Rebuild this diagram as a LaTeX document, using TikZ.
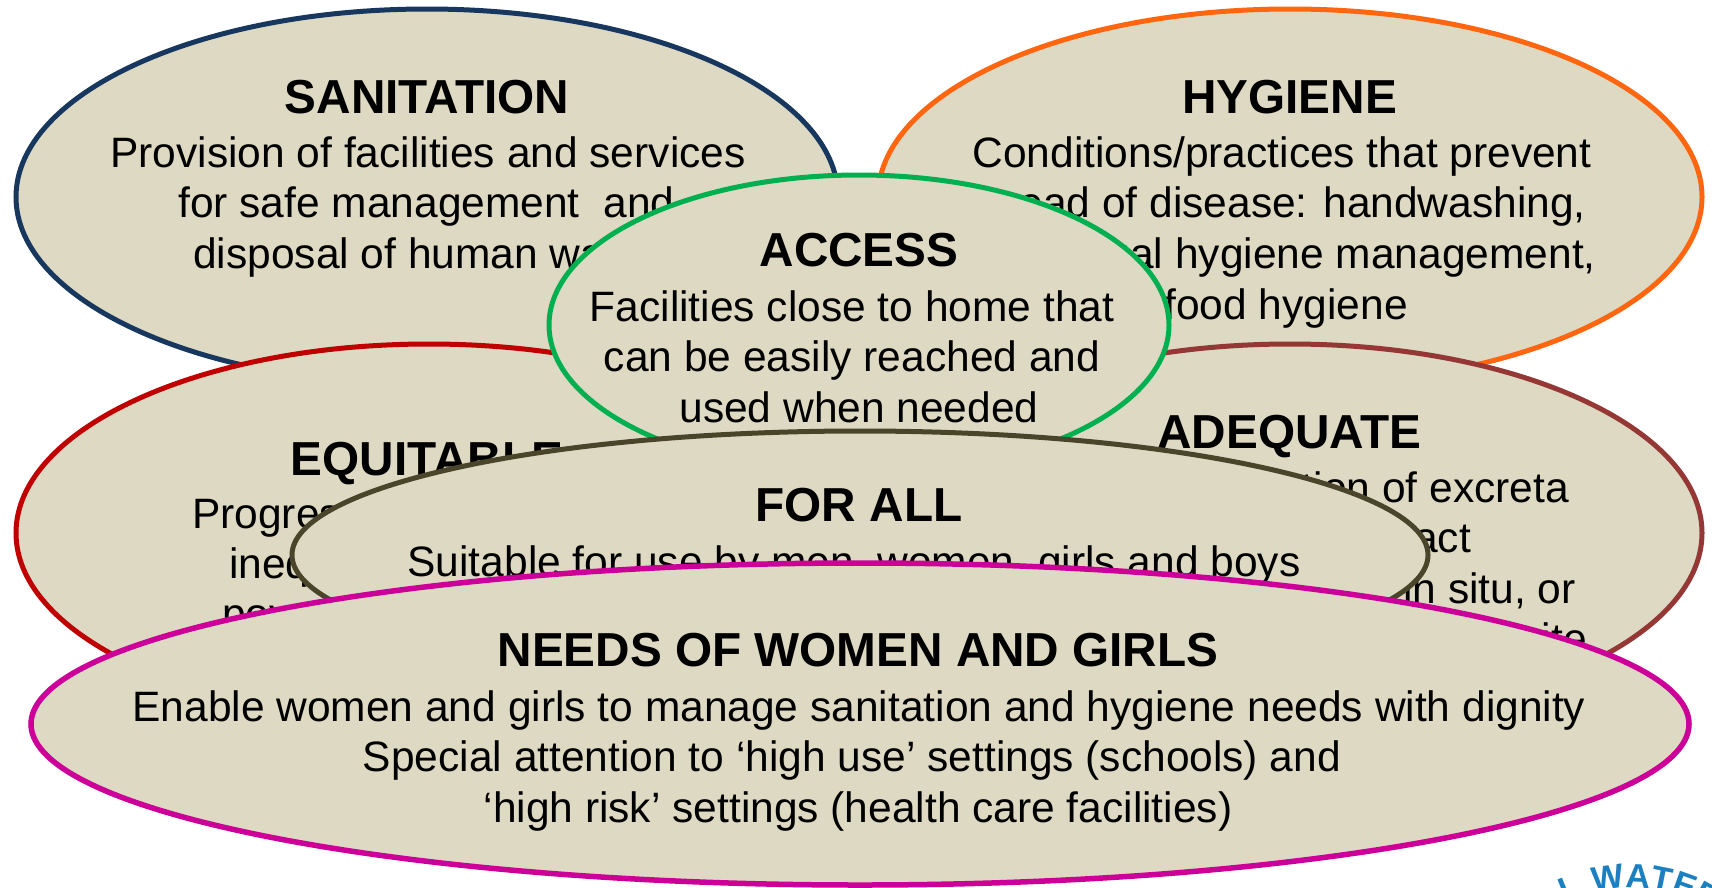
\documentclass[tikz,border=0pt]{standalone}
\usepackage{fontspec}
\usetikzlibrary{decorations.text}
\setmainfont{Liberation Sans}
\definecolor{fillc}{HTML}{DDD9C3}
\definecolor{sanc}{HTML}{17375E}
\definecolor{hygc}{HTML}{FF660F}
\definecolor{equc}{HTML}{C00000}
\definecolor{adeq}{HTML}{953735}
\definecolor{accc}{HTML}{00B050}
\definecolor{forc}{HTML}{4A452A}
\definecolor{needc}{HTML}{CC0099}
\definecolor{logoc}{HTML}{1B7FC0}
\tikzset{
  bubble/.style={draw, fill=fillc, line width=5pt},
  head/.style={inner sep=0pt, anchor=base, font=\fontsize{47.7}{50}\selectfont\bfseries},
  body/.style={inner sep=0pt, anchor=base, font=\fontsize{42.5}{50}\selectfont},
  bodyw/.style={body, anchor=base west},
  bodye/.style={body, anchor=base east},
}
\begin{document}
\begin{tikzpicture}[x=1pt,y=-1pt]
\useasboundingbox (0,0) rectangle (1712,887);
\clip (0,0) rectangle (1712,887);
% sanitation
\draw[bubble,draw=sanc] (427,197) ellipse [x radius=411,y radius=188];
\node[head] (sanh) at (427,113) {SANITATION};
\node[body] (san1) at (428,167) {Provision of facilities and services};
\node[bodyw] (san2) at (178,217) {for safe management\ \ and};
\node[bodyw] (san3) at (193,268) {disposal of human waste};
% hygiene
\draw[bubble,draw=hygc] (1290,197) ellipse [x radius=412,y radius=188];
\node[head] (hygh) at (1289.5,113) {HYGIENE};
\node[body] (hyg1) at (1282,167) {Conditions/practices that prevent};
\node[bodye] (hyg2) at (1586,217) {the spread of disease: handwashing,};
\node[bodye] (hyg3) at (1596,268) {menstrual hygiene management,};
\node[bodye] (hyg4) at (1408,319) {food hygiene};
% equitable
\draw[bubble,draw=equc] (429,533) ellipse [x radius=413,y radius=189];
\node[head] (equh) at (427,475) {EQUITABLE};
\node[bodyw] (equ1) at (192,528) {Progressive};
\node[bodyw] (equ2) at (229,578) {inequalities};
\node[bodyw] (equ3) at (222,628) {poverty};
% adequate
\draw[bubble,draw=adeq] (1290,533) ellipse [x radius=412,y radius=189];
\node[head] (adeh) at (1289.5,448) {ADEQUATE};
\node[bodye] (ade1) at (1569,502) {Separation of excreta};
\node[bodye] (ade2) at (1471,552) {contact};
\node[bodye] (ade3) at (1576,603) {in situ, or};
\node[bodye] (ade4) at (1587,653) {off-site};
% access
\draw[bubble,draw=accc] (859,325) ellipse [x radius=310,y radius=150];
\node[head] (acch) at (859,266) {ACCESS};
\node[body] (acc1) at (852,321) {Facilities close to home that};
\node[body] (acc2) at (852,371) {can be easily reached and};
\node[body] (acc3) at (859,422) {used when needed};
% for all
\draw[bubble,draw=forc] (860,555) ellipse [x radius=568,y radius=124];
\node[head] (forh) at (859,521) {FOR ALL};
\node[body] (for1) at (854,576) {Suitable for use by men, women, girls and boys};
% logo fragment
\path[decorate,decoration={text along path,text align=left,
  text={|\fontsize{34}{34}\selectfont\bfseries\color{logoc}|L WATER}}]
  (1630,1037.5) ++(244.3:150) arc[start angle=244.3,end angle=320,radius=150];
% needs
\draw[bubble,draw=needc,line width=5.5pt] (860,724) ellipse [x radius=829,y radius=161];
\node[head] (neeh) at (858,666) {NEEDS OF WOMEN AND GIRLS};
\node[body] (nee1) at (859,721) {Enable women and girls to manage sanitation and hygiene needs with dignity};
\node[body] (nee2) at (852,771) {Special attention to ‘high use’ settings (schools) and};
\node[body] (nee3) at (858,822) {‘high risk’ settings (health care facilities)};
\end{tikzpicture}
\end{document}
